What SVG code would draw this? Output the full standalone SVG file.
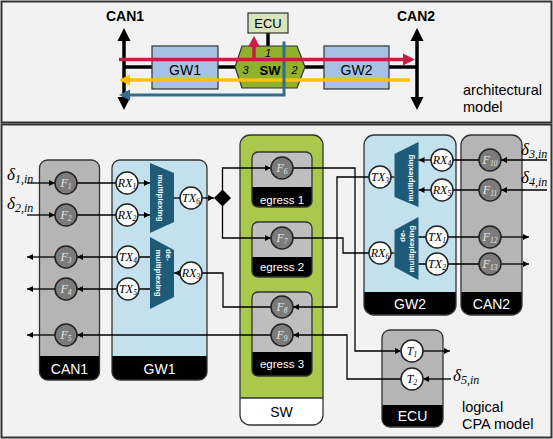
<svg xmlns="http://www.w3.org/2000/svg" width="553" height="439" viewBox="0 0 553 439">
<defs>
<marker id="ah" viewBox="0 0 8 8" refX="8" refY="4" markerWidth="6" markerHeight="6" orient="auto" markerUnits="userSpaceOnUse"><path d="M0,0 L8,4 L0,8 z" fill="#000"/></marker>
<style>
.frame{fill:#f2f2f2;stroke:#333;stroke-width:2}
.bus{stroke:#000;stroke-width:3.5;fill:none}
.abox{stroke:#333;stroke-width:1.2}
.lbl{font-family:"Liberation Sans",Arial,sans-serif}
.c{fill:none;stroke:#000;stroke-width:1.3}
.ca{fill:none;stroke:#000;stroke-width:1.3;marker-end:url(#ah)}
.fc{fill:#7b7b7b;stroke:#222;stroke-width:1.5}
.wc{fill:#fff;stroke:#222;stroke-width:1.5}
.math{font-family:"Liberation Serif","Times New Roman",serif;font-style:italic;font-size:12px;text-anchor:middle}
.fl{fill:#e6e6e6}
.wl{fill:#000}
.outl{fill:none;stroke:#333;stroke-width:1.3}
.bar{fill:#000}
.bt{font-family:"Liberation Sans",Arial,sans-serif;font-size:14px;fill:#fff;text-anchor:middle}
.et{font-family:"Liberation Sans",Arial,sans-serif;font-size:11.5px;fill:#fff;text-anchor:middle}
.mux{fill:#1e5b79}
.mt{font-family:"Liberation Sans",Arial,sans-serif;font-size:8px;font-weight:bold;fill:#fff;text-anchor:middle;dominant-baseline:central}
.delta{font-family:"Liberation Serif","Times New Roman",serif;font-style:italic;font-size:17px}
</style>
</defs>
<rect width="553" height="439" fill="#fff"/>
<rect class="frame" x="1.5" y="1.5" width="550" height="121"/>
<rect class="frame" x="1.5" y="124.5" width="550" height="313"/>

<!-- architectural model -->
<g id="arch">
<path class="bus" d="M124,67 H417"/>
<g id="can1-arch">
<path class="bus" d="M124,39 V99"/>
<polygon points="124,28 117.5,41 130.5,41" fill="#000"/>
<polygon points="124,110 117.5,97 130.5,97" fill="#000"/>
<text class="lbl" x="125" y="21" font-size="14" font-weight="bold" text-anchor="middle">CAN1</text>
</g>
<g id="can2-arch">
<path class="bus" d="M417,39 V99"/>
<polygon points="417,28 410.5,41 423.5,41" fill="#000"/>
<polygon points="417,110 410.5,97 423.5,97" fill="#000"/>
<text class="lbl" x="416" y="21" font-size="14" font-weight="bold" text-anchor="middle">CAN2</text>
</g>
<g id="gw1-arch">
<rect class="abox" x="152" y="46" width="66" height="43" fill="#a6c1e1"/>
<text class="lbl" x="185" y="75" font-size="14" text-anchor="middle">GW1</text>
</g>
<g id="gw2-arch">
<rect class="abox" x="324" y="46" width="65" height="43" fill="#a6c1e1"/>
<text class="lbl" x="356.5" y="75" font-size="14" text-anchor="middle">GW2</text>
</g>
<path class="bus" d="M268,33 V46"/>
<g id="ecu-arch">
<rect class="abox" x="248" y="13" width="40" height="20" fill="#d8e4bd"/>
<text class="lbl" x="268" y="28" font-size="13" text-anchor="middle">ECU</text>
</g>
<g id="sw-arch">
<polygon class="abox" points="235,67 242,46 297,46 305,67 297,88 242,88" fill="#8fb12c"/>
<text class="lbl" x="268" y="57" font-size="11" font-style="italic" text-anchor="middle">1</text>
<text class="lbl" x="245.5" y="74" font-size="11" font-style="italic" text-anchor="middle">3</text>
<text class="lbl" x="270" y="74.5" font-size="13" font-weight="bold" text-anchor="middle">SW</text>
<text class="lbl" x="294.5" y="74" font-size="11" font-style="italic" text-anchor="middle">2</text>
</g>
<g id="flows-arch">
<path d="M410,80 H129" stroke="#ffc000" stroke-width="3.5" fill="none"/>
<polygon points="119,80 130,74.5 130,85.5" fill="#ffc000"/>
<path d="M284,41.5 V95 H129" stroke="#326d8a" stroke-width="3" fill="none"/>
<polygon points="119,95 130,89.5 130,100.5" fill="#326d8a"/>
<path d="M119,59.5 H404 M254,59.5 V45" stroke="#c81e46" stroke-width="3.5" fill="none"/>
<polygon points="415,59.5 403,53.5 403,65.5" fill="#c81e46"/>
<polygon points="254,36 248,47 260,47" fill="#c81e46"/>
</g>
<text class="lbl" x="463" y="95" font-size="14.5">architectural</text>
<text class="lbl" x="463" y="112" font-size="14.5">model</text>
</g>

<!-- logical model: containers -->
<g id="can1">
<rect class="bar" x="39.5" y="160" width="60" height="220" rx="8"/>
<path d="M39.5,356 V168 a8,8 0 0 1 8,-8 H91.5 a8,8 0 0 1 8,8 V356 Z" fill="#b5b5b5"/>
<rect class="outl" x="39.5" y="160" width="60" height="220" rx="8"/>
<text class="bt" x="69.5" y="374">CAN1</text>
</g>
<g id="gw1">
<rect class="bar" x="112" y="160" width="95" height="220" rx="8"/>
<path d="M112,356 V168 a8,8 0 0 1 8,-8 H199 a8,8 0 0 1 8,8 V356 Z" fill="#c2e1ed"/>
<rect class="outl" x="112" y="160" width="95" height="220" rx="8"/>
<text class="bt" x="159.5" y="374">GW1</text>
<polygon class="mux" points="150,163 174,173 174,222 150,233"/>
<text class="mt" transform="translate(160,198) rotate(90)">multiplexing</text>
<polygon class="mux" points="150,237 174,250 174,297 150,309"/>
<text class="mt" transform="translate(168,255) rotate(90)">de-</text>
<text class="mt" transform="translate(158,273) rotate(90)">multiplexing</text>
</g>
<g id="sw">
<rect x="240" y="135" width="83" height="290" rx="10" fill="#fff"/>
<path d="M240,398 V145 a10,10 0 0 1 10,-10 H313 a10,10 0 0 1 10,10 V398 Z" fill="#a9c84c"/>
<path d="M240,398 H323" stroke="#333" stroke-width="1.3"/>
<rect class="outl" x="240" y="135" width="83" height="290" rx="10"/>
<text class="lbl" x="281.5" y="417" font-size="14" text-anchor="middle">SW</text>
</g>
<g id="egress1">
<rect class="bar" x="252" y="152" width="60" height="55" rx="6"/>
<path d="M252,187 V158 a6,6 0 0 1 6,-6 H306 a6,6 0 0 1 6,6 V187 Z" fill="#bebebe"/>
<rect class="outl" x="252" y="152" width="60" height="55" rx="6"/>
<text class="et" x="282" y="204">egress 1</text>
</g>
<g id="egress2">
<rect class="bar" x="252" y="222" width="60" height="55" rx="6"/>
<path d="M252,257 V228 a6,6 0 0 1 6,-6 H306 a6,6 0 0 1 6,6 V257 Z" fill="#bebebe"/>
<rect class="outl" x="252" y="222" width="60" height="55" rx="6"/>
<text class="et" x="282" y="271">egress 2</text>
</g>
<g id="egress3">
<rect class="bar" x="252" y="292" width="60" height="84" rx="6"/>
<path d="M252,352 V298 a6,6 0 0 1 6,-6 H306 a6,6 0 0 1 6,6 V352 Z" fill="#bebebe"/>
<rect class="outl" x="252" y="292" width="60" height="84" rx="6"/>
<text class="et" x="282" y="368">egress 3</text>
</g>
<g id="gw2">
<rect class="bar" x="364" y="135" width="92" height="180" rx="10"/>
<path d="M364,292 V145 a10,10 0 0 1 10,-10 H446 a10,10 0 0 1 10,10 V292 Z" fill="#c2e1ed"/>
<rect class="outl" x="364" y="135" width="92" height="180" rx="10"/>
<text class="bt" x="410" y="309">GW2</text>
<polygon class="mux" points="394.5,154 418.5,142 418.5,207 394.5,197"/>
<text class="mt" transform="translate(410.5,178) rotate(-90)">multiplexing</text>
<polygon class="mux" points="394.5,230 418.5,217 418.5,280 394.5,267"/>
<text class="mt" transform="translate(402.5,236) rotate(-90)">de-</text>
<text class="mt" transform="translate(411,249) rotate(-90)">multiplexing</text>
</g>
<g id="can2">
<rect class="bar" x="461" y="135" width="61" height="180" rx="10"/>
<path d="M461,292 V145 a10,10 0 0 1 10,-10 H512 a10,10 0 0 1 10,10 V292 Z" fill="#b5b5b5"/>
<rect class="outl" x="461" y="135" width="61" height="180" rx="10"/>
<text class="bt" x="491.5" y="309">CAN2</text>
</g>
<g id="ecu">
<rect class="bar" x="382" y="330" width="61" height="97" rx="8"/>
<path d="M382,405 V338 a8,8 0 0 1 8,-8 H435 a8,8 0 0 1 8,8 V405 Z" fill="#b5b5b5"/>
<rect class="outl" x="382" y="330" width="61" height="97" rx="8"/>
<text class="bt" x="412.5" y="421">ECU</text>
</g>

<!-- connectors -->
<g id="connectors">
<path class="ca" d="M27,183 H55"/>
<path class="c" d="M77,183 H116"/>
<path class="ca" d="M138,183 H150"/>
<path class="ca" d="M27,215 H55"/>
<path class="c" d="M77,215 H116"/>
<path class="ca" d="M138,215 H150"/>
<path class="c" d="M174,198 H180"/>
<path class="ca" d="M202,198 H214"/>
<path class="ca" d="M222.5,190 V168 H271"/>
<path class="ca" d="M222.5,206 V238 H271"/>
<path class="ca" d="M293,168 H355 V351 H401"/>
<path class="c" d="M293,238 H343 V253 H369"/>
<path class="c" d="M391,253 H394.5"/>
<path class="c" d="M418.5,237 H426 M418.5,264 H426"/>
<path class="c" d="M448,237 H479 M448,264 H479"/>
<path class="ca" d="M501,237 H529"/>
<path class="ca" d="M501,264 H529"/>
<path class="ca" d="M547,160 H501"/>
<path class="ca" d="M547,190 H501"/>
<path class="c" d="M479,160 H453 M479,190 H453"/>
<path class="ca" d="M431,160 H418.5"/>
<path class="ca" d="M431,190 H418.5"/>
<path class="c" d="M394.5,177 H391"/>
<path class="ca" d="M369,177 H337 V307 H293"/>
<path class="c" d="M271,307 H223 V273 H202"/>
<path class="ca" d="M180,273 H174"/>
<path class="c" d="M150,257 H139 M150,289 H139"/>
<path class="ca" d="M117,257 H77"/>
<path class="ca" d="M117,289 H77"/>
<path class="ca" d="M55,257 H27"/>
<path class="ca" d="M55,289 H27"/>
<path class="ca" d="M55,335 H27"/>
<path class="ca" d="M401,379 H347 V335 H293"/>
<path class="ca" d="M271,335 H77"/>
<path class="ca" d="M423,351 H450"/>
<path class="ca" d="M451,379 H423"/>
<polygon points="222.5,189.5 231,198 222.5,206.5 214,198" fill="#000"/>
</g>

<!-- nodes -->
<g id="F1"><circle class="fc" cx="66" cy="183" r="11"/><text class="math fl" x="66" y="186.5">F<tspan font-size="7.5" dy="2">1</tspan></text></g>
<g id="F2"><circle class="fc" cx="66" cy="215" r="11"/><text class="math fl" x="66" y="218.5">F<tspan font-size="7.5" dy="2">2</tspan></text></g>
<g id="F3"><circle class="fc" cx="66" cy="257" r="11"/><text class="math fl" x="66" y="260.5">F<tspan font-size="7.5" dy="2">3</tspan></text></g>
<g id="F4"><circle class="fc" cx="66" cy="289" r="11"/><text class="math fl" x="66" y="292.5">F<tspan font-size="7.5" dy="2">4</tspan></text></g>
<g id="F5"><circle class="fc" cx="66" cy="335" r="11"/><text class="math fl" x="66" y="338.5">F<tspan font-size="7.5" dy="2">5</tspan></text></g>
<g id="RX1"><circle class="wc" cx="127" cy="183" r="11"/><text class="math wl" x="127" y="186.5">RX<tspan font-size="7.5" dy="2">1</tspan></text></g>
<g id="RX2"><circle class="wc" cx="127" cy="215" r="11"/><text class="math wl" x="127" y="218.5">RX<tspan font-size="7.5" dy="2">2</tspan></text></g>
<g id="TX4"><circle class="wc" cx="128" cy="257" r="11"/><text class="math wl" x="128" y="260.5">TX<tspan font-size="7.5" dy="2">4</tspan></text></g>
<g id="TX5"><circle class="wc" cx="128" cy="289" r="11"/><text class="math wl" x="128" y="292.5">TX<tspan font-size="7.5" dy="2">5</tspan></text></g>
<g id="TX6"><circle class="wc" cx="191" cy="198" r="11"/><text class="math wl" x="191" y="201.5">TX<tspan font-size="7.5" dy="2">6</tspan></text></g>
<g id="RX3"><circle class="wc" cx="191" cy="273" r="11"/><text class="math wl" x="191" y="276.5">RX<tspan font-size="7.5" dy="2">3</tspan></text></g>
<g id="F6"><circle class="fc" cx="282" cy="168" r="11"/><text class="math fl" x="282" y="171.5">F<tspan font-size="7.5" dy="2">6</tspan></text></g>
<g id="F7"><circle class="fc" cx="282" cy="238" r="11"/><text class="math fl" x="282" y="241.5">F<tspan font-size="7.5" dy="2">7</tspan></text></g>
<g id="F8"><circle class="fc" cx="282" cy="307" r="11"/><text class="math fl" x="282" y="310.5">F<tspan font-size="7.5" dy="2">8</tspan></text></g>
<g id="F9"><circle class="fc" cx="282" cy="335" r="11"/><text class="math fl" x="282" y="338.5">F<tspan font-size="7.5" dy="2">9</tspan></text></g>
<g id="TX3"><circle class="wc" cx="380" cy="177" r="11"/><text class="math wl" x="380" y="180.5">TX<tspan font-size="7.5" dy="2">3</tspan></text></g>
<g id="RX6"><circle class="wc" cx="380" cy="253" r="11"/><text class="math wl" x="380" y="256.5">RX<tspan font-size="7.5" dy="2">6</tspan></text></g>
<g id="RX4"><circle class="wc" cx="442" cy="160" r="11"/><text class="math wl" x="442" y="163.5">RX<tspan font-size="7.5" dy="2">4</tspan></text></g>
<g id="RX5"><circle class="wc" cx="442" cy="190" r="11"/><text class="math wl" x="442" y="193.5">RX<tspan font-size="7.5" dy="2">5</tspan></text></g>
<g id="TX1"><circle class="wc" cx="437" cy="237" r="11"/><text class="math wl" x="437" y="240.5">TX<tspan font-size="7.5" dy="2">1</tspan></text></g>
<g id="TX2"><circle class="wc" cx="437" cy="264" r="11"/><text class="math wl" x="437" y="267.5">TX<tspan font-size="7.5" dy="2">2</tspan></text></g>
<g id="F10"><circle class="fc" cx="490" cy="160" r="11"/><text class="math fl" x="490" y="163.5">F<tspan font-size="7.5" dy="2">10</tspan></text></g>
<g id="F11"><circle class="fc" cx="490" cy="190" r="11"/><text class="math fl" x="490" y="193.5">F<tspan font-size="7.5" dy="2">11</tspan></text></g>
<g id="F12"><circle class="fc" cx="490" cy="237" r="11"/><text class="math fl" x="490" y="240.5">F<tspan font-size="7.5" dy="2">12</tspan></text></g>
<g id="F13"><circle class="fc" cx="490" cy="264" r="11"/><text class="math fl" x="490" y="267.5">F<tspan font-size="7.5" dy="2">13</tspan></text></g>
<g id="T1"><circle class="wc" cx="412" cy="351" r="11"/><text class="math wl" x="412" y="354.5">T<tspan font-size="7.5" dy="2">1</tspan></text></g>
<g id="T2"><circle class="wc" cx="412" cy="379" r="11"/><text class="math wl" x="412" y="382.5">T<tspan font-size="7.5" dy="2">2</tspan></text></g>

<!-- input labels -->
<text class="delta" x="7" y="180">δ<tspan font-size="12" dy="3">1,in</tspan></text>
<text class="delta" x="7" y="209">δ<tspan font-size="12" dy="3">2,in</tspan></text>
<text class="delta" x="521" y="155">δ<tspan font-size="12" dy="3">3,in</tspan></text>
<text class="delta" x="521" y="183">δ<tspan font-size="12" dy="3">4,in</tspan></text>
<text class="delta" x="453" y="381">δ<tspan font-size="12" dy="3">5,in</tspan></text>

<text class="lbl" x="462" y="412" font-size="14.5">logical</text>
<text class="lbl" x="462" y="429" font-size="14.5">CPA model</text>
</svg>
